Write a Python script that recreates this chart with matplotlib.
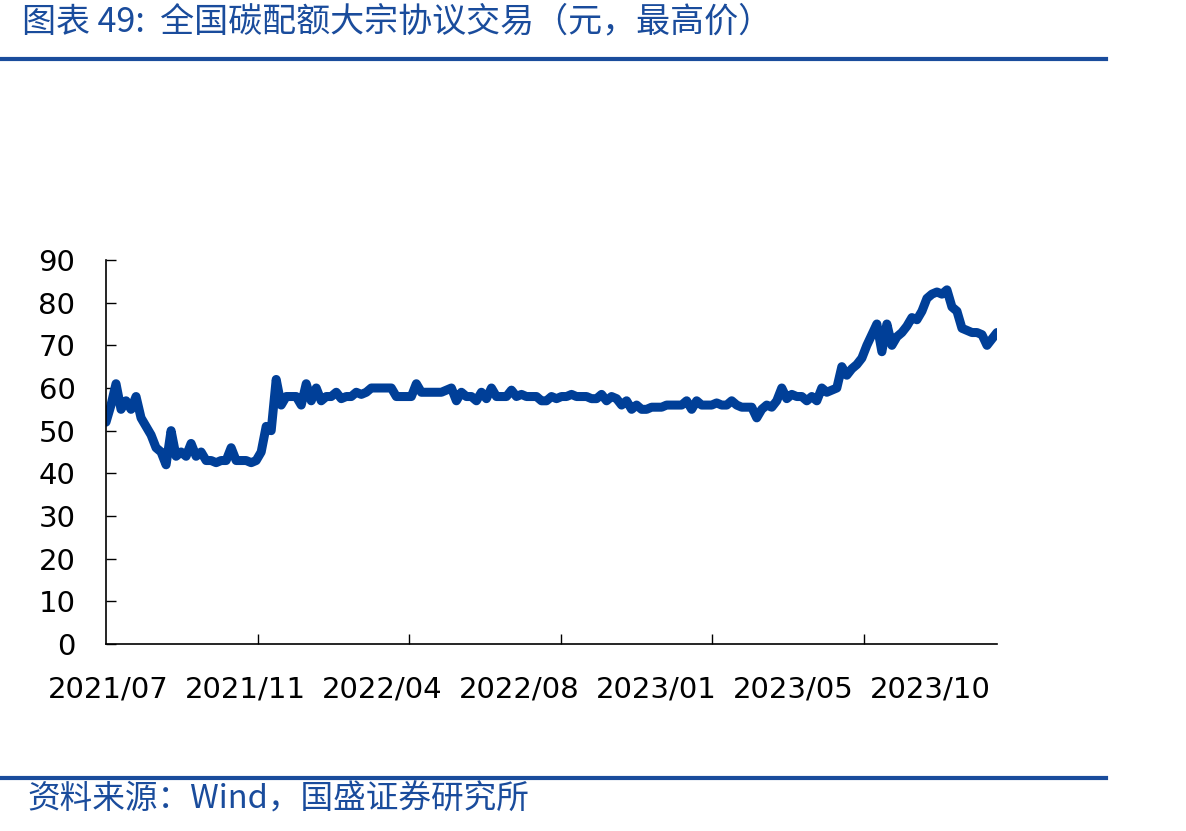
import numpy as np
import matplotlib
matplotlib.use("Agg")
import matplotlib.pyplot as plt
from matplotlib.lines import Line2D
import matplotlib.transforms as mtransforms

plt.rcParams['font.family'] = ['DejaVu Sans', 'Noto Sans CJK SC']

# ---------------- data ----------------
title_text = "图表 49:  全国碳配额大宗协议交易（元，最高价）"
source_text = "资料来源：Wind，国盛证券研究所"
x_labels = ["2021/07", "2021/11", "2022/04", "2022/08", "2023/01", "2023/05", "2023/10"]
y_ticks = [0, 10, 20, 30, 40, 50, 60, 70, 80, 90]

price = [
    52, 56, 61, 55, 57, 55, 58, 53, 51, 49,
    46, 45, 42, 50, 44, 45, 44, 47, 44, 45,
    43, 43, 42.5, 43, 43, 46, 43, 43, 43, 42.5,
    43, 45, 51, 50, 62, 56, 58, 58, 58, 56,
    61, 57, 60, 57, 58, 58, 59, 57.5, 58, 58,
    59, 58.5, 59, 60, 60, 60, 60, 60, 58, 58,
    58, 58, 61, 59, 59, 59, 59, 59, 59.5, 60,
    57, 59, 58, 58, 57, 59, 57.5, 60, 58, 58,
    58, 59.5, 58, 58.5, 58, 58, 58, 57, 57, 58,
    57.5, 58, 58, 58.5, 58, 58, 58, 57.5, 57.5, 58.5,
    57, 58, 57.5, 56, 57, 55, 56, 55, 55, 55.5,
    55.5, 55.5, 56, 56, 56, 56, 57, 55, 57, 56,
    56, 56, 56.5, 56, 56, 57, 56, 55.5, 55.5, 55.5,
    53, 55, 56, 55.5, 57, 60, 57.5, 58.5, 58, 58,
    57, 58, 57, 60, 59, 59.5, 60, 65, 63, 64.5,
    65.5, 67, 70, 72.5, 75, 68.5, 75, 70, 72, 73,
    74.5, 76.5, 76, 78, 81, 82, 82.5, 82, 83, 79,
    78, 74, 73.5, 73, 73, 72.5, 70, 71.5, 73,
]

# ---------------- figure ----------------
W, H = 1186, 831
fig = plt.figure(figsize=(W / 100, H / 100), dpi=100)

blue_dark = '#1a4c9c'
line_blue = '#003f98'

ax_l, ax_r = 106 / W, 997 / W
ax_b, ax_t = 1 - 644 / H, 1 - 260 / H
ax = fig.add_axes([ax_l, ax_b, ax_r - ax_l, ax_t - ax_b])

x = np.arange(len(price))
ax.plot(x, price, color=line_blue, lw=6.5, solid_capstyle='round',
        solid_joinstyle='round')

ax.set_xlim(0, len(price) - 1)
ax.set_ylim(0, 90)
ax.set_yticks(y_ticks)
ax.set_yticklabels([str(v) for v in y_ticks], fontsize=21)

# x tick marks (unlabelled), spaced like the reference
n = len(price) - 1
tick_step = n * 151.6 / 891
ax.set_xticks([tick_step * k for k in range(1, 6)])
ax.set_xticklabels([])

ax.tick_params(axis='y', direction='in', length=7, width=1, pad=22, colors='black')
ax.tick_params(axis='x', direction='in', length=7, width=1)

for s in ['top', 'right']:
    ax.spines[s].set_visible(False)
for s in ['left', 'bottom']:
    ax.spines[s].set_linewidth(1.2)
    ax.spines[s].set_color('black')

# x category labels
trans = mtransforms.blended_transform_factory(ax.transAxes, fig.transFigure)
label_step = 137 / 891
for k, lab in enumerate(x_labels):
    ax.text(2 / 891 + k * label_step, 1 - 690 / H, lab, transform=trans,
            ha='center', va='center', fontsize=21, color='black')

# title, rules and source
fig.text(22 / W, 1 - 22 / H, title_text, ha='left', va='center',
         fontsize=24.5, color=blue_dark,
         family=['Noto Sans CJK SC', 'DejaVu Sans'])
fig.add_artist(Line2D([0, 1106 / W], [1 - 59 / H, 1 - 59 / H],
                      transform=fig.transFigure, color=blue_dark, lw=3))
fig.add_artist(Line2D([0, 1106 / W], [1 - 778 / H, 1 - 778 / H],
                      transform=fig.transFigure, color=blue_dark, lw=3))
fig.text(27 / W, 1 - 800 / H, source_text, ha='left', va='center',
         fontsize=23.5, color=blue_dark,
         family=['Noto Sans CJK SC', 'DejaVu Sans'])

fig.savefig('out.png', dpi=100)
